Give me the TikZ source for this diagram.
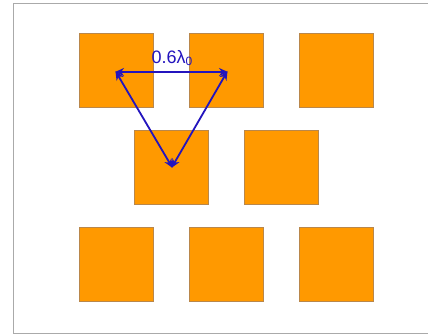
\documentclass[tikz,border=0pt]{standalone}
\usepackage{fontspec}
\setmainfont{Liberation Sans}
\usetikzlibrary{arrows.meta}
\definecolor{patch}{RGB}{255,153,0}
\definecolor{patchedge}{RGB}{185,135,75}
\definecolor{arrowblue}{RGB}{35,20,190}
\definecolor{framegray}{RGB}{170,170,170}
\tikzset{
  x=1pt,y=-1pt,
  patchbox/.style={draw=patchedge,line width=0.8pt,fill=patch,minimum size=74.5pt,inner sep=0pt,outer sep=0pt,anchor=north west},
  span/.style={draw=arrowblue,line width=1.8pt,{Stealth[length=9pt,width=8pt]}-{Stealth[length=9pt,width=8pt]},shorten <=-1pt,shorten >=-1pt},
  lbl/.style={text=arrowblue,font=\fontsize{18}{18}\selectfont,inner sep=0pt}
}
\begin{document}
\begin{tikzpicture}
\useasboundingbox (0,0) rectangle (428,334);
\fill[white] (0,0) rectangle (428,334);
\draw[framegray,line width=1pt] (428,3.5) -- (13.5,3.5) -- (13.5,333) -- (428,333);
\node[patchbox] (a1) at (79,33) {};
\node[patchbox] (a2) at (189,33) {};
\node[patchbox] (a3) at (299,33) {};
\node[patchbox] (b1) at (134,130) {};
\node[patchbox] (b2) at (244,130) {};
\node[patchbox] (c1) at (79,227) {};
\node[patchbox] (c2) at (189,227) {};
\node[patchbox] (c3) at (299,227) {};
\coordinate (p) at (116,72);
\coordinate (q) at (227,72);
\coordinate (r) at (172,167);
\draw[span] (p) -- (q);
\draw[span] (p) -- (r);
\draw[span] (q) -- (r);
\node[lbl] (t) at (172,58) {0.6λ\raisebox{-2pt}{\fontsize{12}{12}\selectfont 0}};
\end{tikzpicture}
\end{document}
